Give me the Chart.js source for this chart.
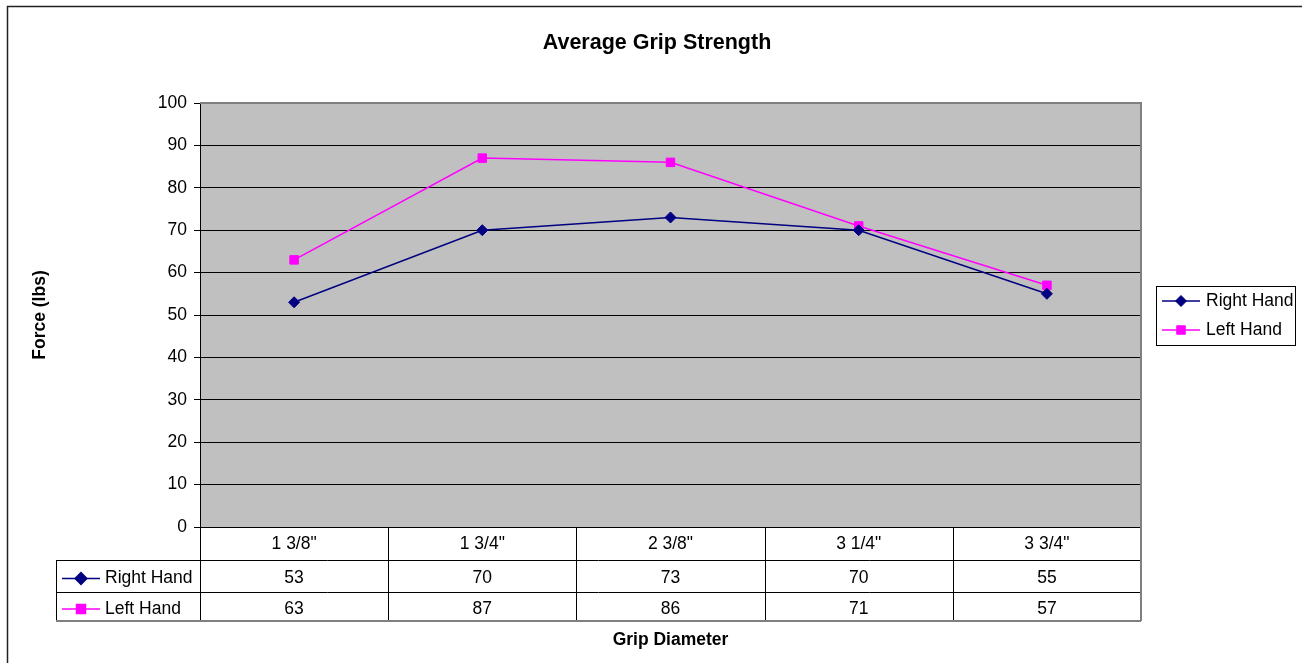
<!DOCTYPE html>
<html>
<head>
<meta charset="utf-8">
<title>Average Grip Strength</title>
<script src="https://cdn.jsdelivr.net/npm/chart.js@4.4.0/dist/chart.umd.min.js"></script>
<style>
  html, body { margin: 0; padding: 0; background: #fff; }
  #wrap { width: 1302px; height: 663px; position: relative; }
</style>
</head>
<body>
<div id="wrap"><canvas id="grip-chart"></canvas></div>
<script>
// data
const categories = ['1 3/8"', '1 3/4"', '2 3/8"', '3 1/4"', '3 3/4"'];
const rightHand = [53, 70, 73, 70, 55];
const leftHand = [63, 87, 86, 71, 57];
const seriesNames = ['Right Hand', 'Left Hand'];
const chartTitle = 'Average Grip Strength';
const yTitle = 'Force (lbs)';
const xTitle = 'Grip Diameter';

const FONT = '"Liberation Sans", Arial, Helvetica, sans-serif';
const NAVY = '#000080';
const MAGENTA = '#ff00ff';

function marker(ctx, style, color, x, y, r) {
  ctx.save();
  ctx.fillStyle = color;
  ctx.strokeStyle = color;
  Chart.helpers.drawPoint(ctx, { pointStyle: style, radius: r, rotation: 0, borderWidth: 1 }, x, y);
  ctx.restore();
}

function legendKey(ctx, ds, x, y) {
  ctx.save();
  ctx.strokeStyle = ds.borderColor;
  ctx.lineWidth = 1.5;
  ctx.beginPath();
  ctx.moveTo(x, y);
  ctx.lineTo(x + 38, y);
  ctx.stroke();
  ctx.restore();
  marker(ctx, ds.pointStyle, ds.borderColor, x + 19, y, ds.pointRadius);
}

const frame = {
  id: 'frame',
  beforeDraw(chart) {
    const { ctx, chartArea: a } = chart;
    ctx.save();
    ctx.fillStyle = '#fff';
    ctx.fillRect(0, 0, chart.width, chart.height);
    // outer chart border
    ctx.strokeStyle = '#222';
    ctx.lineWidth = 1.5;
    ctx.beginPath();
    ctx.moveTo(7.5, chart.height);
    ctx.lineTo(7.5, 6.5);
    ctx.lineTo(chart.width, 6.5);
    ctx.stroke();
    // plot area fill
    ctx.fillStyle = '#c0c0c0';
    ctx.fillRect(a.left, a.top, a.right - a.left, a.bottom - a.top);
    ctx.restore();
  },
  afterDatasetsDraw(chart) {
    const { ctx, chartArea: a } = chart;
    ctx.save();
    ctx.strokeStyle = '#808080';
    ctx.lineWidth = 2;
    ctx.beginPath();
    ctx.moveTo(a.left, a.top);
    ctx.lineTo(a.right, a.top);
    ctx.lineTo(a.right, a.bottom);
    ctx.stroke();
    ctx.restore();
  },
  afterDraw(chart) {
    const { ctx, chartArea: a } = chart;
    const xs = chart.scales.x;
    const sets = chart.data.datasets;
    const colW = (a.right - a.left) / categories.length;
    const r0 = a.bottom, r1 = a.bottom + 33, r2 = a.bottom + 65, r3 = a.bottom + 94;
    const labelLeft = 56;

    ctx.save();
    // title
    ctx.fillStyle = '#000';
    ctx.textAlign = 'center';
    ctx.textBaseline = 'middle';
    ctx.font = 'bold 21.5px ' + FONT;
    ctx.fillText(chartTitle, 657, 43);

    // axis titles
    ctx.font = 'bold 17.5px ' + FONT;
    ctx.fillText(xTitle, (a.left + a.right) / 2, 640);
    ctx.save();
    ctx.translate(40, 315);
    ctx.rotate(-Math.PI / 2);
    ctx.fillText(yTitle, 0, 0);
    ctx.restore();

    // data table grid
    ctx.strokeStyle = '#000';
    ctx.lineWidth = 1;
    ctx.beginPath();
    for (const y of [r1, r2]) {
      ctx.moveTo(labelLeft, y + 0.5);
      ctx.lineTo(a.right, y + 0.5);
    }
    ctx.moveTo(labelLeft + 0.5, r1);
    ctx.lineTo(labelLeft + 0.5, r3);
    for (let i = 0; i <= categories.length; i++) {
      const x = Math.round(a.left + i * colW) + 0.5;
      ctx.moveTo(x, r0);
      ctx.lineTo(x, r3);
    }
    ctx.stroke();
    ctx.strokeStyle = '#808080';
    ctx.lineWidth = 2;
    ctx.beginPath();
    ctx.moveTo(labelLeft, r3);
    ctx.lineTo(a.right, r3);
    ctx.moveTo(a.right, r0);
    ctx.lineTo(a.right, r3);
    ctx.stroke();

    // table text
    ctx.fillStyle = '#000';
    ctx.font = '17.5px ' + FONT;
    ctx.textAlign = 'center';
    const rowMid = [(r0 + r1) / 2 + 1, (r1 + r2) / 2 + 2.5, (r2 + r3) / 2 + 2.5];
    categories.forEach((c, i) => {
      const x = xs.getPixelForValue(i);
      ctx.fillText(c, x, rowMid[0]);
      ctx.fillText(String(sets[0].data[i]), x, rowMid[1]);
      ctx.fillText(String(sets[1].data[i]), x, rowMid[2]);
    });
    ctx.textAlign = 'left';
    sets.forEach((ds, k) => {
      const y = rowMid[k + 1];
      legendKey(ctx, ds, 62, y);
      ctx.fillStyle = '#000';
      ctx.fillText(ds.label, 105, y);
    });

    // legend box
    ctx.strokeStyle = '#000';
    ctx.lineWidth = 1;
    ctx.strokeRect(1156.5, 286.5, 139, 59);
    sets.forEach((ds, k) => {
      const y = 301 + k * 29;
      legendKey(ctx, ds, 1162, y);
      ctx.fillStyle = '#000';
      ctx.fillText(ds.label, 1206, y);
    });
    ctx.restore();
  }
};

new Chart(document.getElementById('grip-chart'), {
  type: 'line',
  data: {
    labels: categories,
    datasets: [
      {
        label: seriesNames[0],
        data: rightHand,
        borderColor: NAVY,
        backgroundColor: NAVY,
        borderWidth: 1.5,
        pointStyle: 'rectRot',
        pointRadius: 5.5,
        pointBorderWidth: 1,
        tension: 0,
      },
      {
        label: seriesNames[1],
        data: leftHand,
        borderColor: MAGENTA,
        backgroundColor: MAGENTA,
        borderWidth: 1.5,
        pointStyle: 'rect',
        pointRadius: 6,
        pointBorderWidth: 1,
        tension: 0,
      },
    ],
  },
  options: {
    responsive: true,
    maintainAspectRatio: false,
    animation: false,
    layout: { padding: { top: 103, right: 161, left: 0, bottom: 0 } },
    plugins: {
      legend: { display: false },
      title: { display: false },
      tooltip: { enabled: false },
    },
    scales: {
      x: {
        type: 'category',
        offset: true,
        grid: { display: false, drawTicks: false },
        border: { display: false },
        ticks: { display: false },
        afterFit(scale) { scale.height = 136; },
      },
      y: {
        min: 0,
        max: 100,
        ticks: {
          stepSize: 10,
          color: '#000',
          padding: 7,
          font: { family: FONT, size: 17.5 },
        },
        grid: { color: '#000', lineWidth: 1, tickLength: 6, drawTicks: true },
        border: { display: true, color: '#000', width: 1 },
        afterFit(scale) { scale.width = 200; },
      },
    },
  },
  plugins: [frame],
});
</script>
</body>
</html>
